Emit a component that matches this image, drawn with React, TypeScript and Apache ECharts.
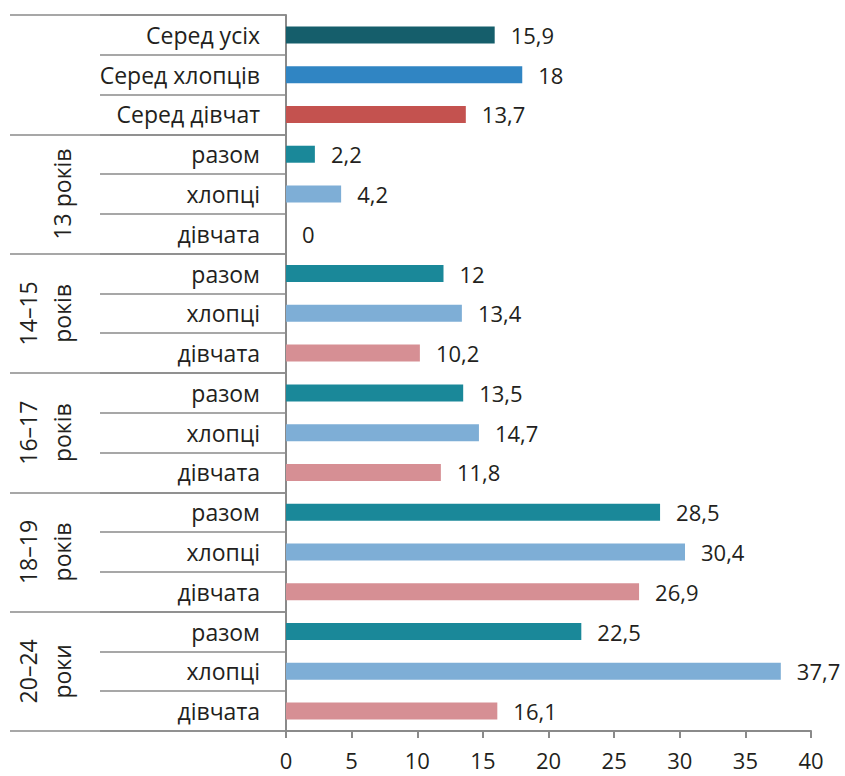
import React, { useEffect, useRef } from "react";
import * as echarts from "echarts";

// Row labels, top to bottom
const rowLabels: string[] = [
  "Серед усіх",
  "Серед хлопців",
  "Серед дівчат",
  "разом",
  "хлопці",
  "дівчата",
  "разом",
  "хлопці",
  "дівчата",
  "разом",
  "хлопці",
  "дівчата",
  "разом",
  "хлопці",
  "дівчата",
  "разом",
  "хлопці",
  "дівчата",
];

// Age group labels, each spanning three rows
const groupLabels: string[] = [
  "",
  "13 років",
  "14–15\nроків",
  "16–17\nроків",
  "18–19\nроків",
  "20–24\nроки",
];

// Percentages per row
const values: number[] = [
  15.9, 18, 13.7,
  2.2, 4.2, 0,
  12, 13.4, 10.2,
  13.5, 14.7, 11.8,
  28.5, 30.4, 26.9,
  22.5, 37.7, 16.1,
];

// Colour key per row
const rowKinds: string[] = [
  "allTotal", "allBoys", "allGirls",
  "total", "boys", "girls",
  "total", "boys", "girls",
  "total", "boys", "girls",
  "total", "boys", "girls",
  "total", "boys", "girls",
];

const xTicks = { min: 0, max: 40, interval: 5 };

const palette: Record<string, string> = {
  allTotal: "#155e6b",
  allBoys: "#3085c3",
  allGirls: "#c4524f",
  total: "#1a8899",
  boys: "#7eaed6",
  girls: "#d68f94",
};

const FONT = "'Open Sans', sans-serif";
const TEXT = "#231f20";
const LINE = "#8a8a8a";

export default function App() {
  const ref = useRef<HTMLDivElement>(null);

  useEffect(() => {
    document.body.style.margin = "0";
    if (!ref.current) return;
    const chart = echarts.init(ref.current, undefined, { renderer: "svg" });

    const option: echarts.EChartsOption = {
      animation: false,
      backgroundColor: "#ffffff",
      textStyle: { fontFamily: FONT },
      grid: { left: 286, right: 34, top: 15, bottom: 45, containLabel: false },
      xAxis: {
        type: "value",
        min: xTicks.min,
        max: xTicks.max,
        interval: xTicks.interval,
        axisLine: { show: true, lineStyle: { color: LINE, width: 2 } },
        axisTick: { show: true, length: 7, lineStyle: { color: LINE, width: 2 } },
        splitLine: { show: false },
        axisLabel: {
          color: TEXT,
          fontSize: 22,
          fontFamily: FONT,
          lineHeight: 20,
          margin: 19,
        },
      },
      yAxis: [
        {
          type: "category",
          data: rowLabels,
          inverse: true,
          position: "left",
          axisLine: { show: true, lineStyle: { color: LINE, width: 2 } },
          axisTick: { show: true, length: 186, lineStyle: { color: LINE, width: 1.5 } },
          axisLabel: { color: TEXT, fontSize: 23, fontFamily: FONT, margin: 26 },
        },
        {
          type: "category",
          data: groupLabels,
          inverse: true,
          position: "left",
          axisLine: { show: false },
          axisTick: { show: true, length: 276, lineStyle: { color: LINE, width: 1.5 } },
          axisLabel: {
            color: TEXT,
            fontSize: 23,
            fontFamily: FONT,
            rotate: 90,
            align: "center",
            verticalAlign: "bottom",
            lineHeight: 34,
            margin: 207,
          },
        },
      ],
      series: [
        {
          type: "bar",
          yAxisIndex: 0,
          barWidth: 17,
          data: values.map((v, i) => ({
            value: v,
            itemStyle: { color: palette[rowKinds[i]] },
          })),
          label: {
            show: true,
            position: "right",
            distance: 16,
            color: TEXT,
            fontSize: 22,
            fontFamily: FONT,
            formatter: (p: any) => String(p.value).replace(".", ","),
          },
        },
      ],
    };

    chart.setOption(option);
    return () => chart.dispose();
  }, []);

  return <div ref={ref} style={{ width: 845, height: 776 }} />;
}
